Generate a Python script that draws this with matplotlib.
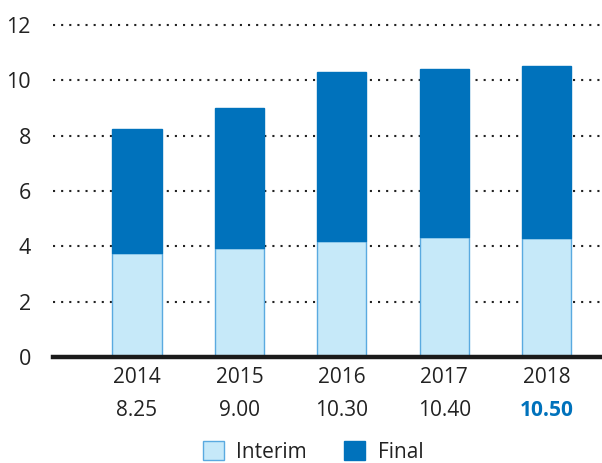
import numpy as np
import matplotlib.pyplot as plt
from matplotlib.patches import Patch

years = ['2014', '2015', '2016', '2017', '2018']
totals = [8.25, 9.00, 10.30, 10.40, 10.50]
interim = [3.75, 3.95, 4.20, 4.35, 4.30]
final = [t - i for t, i in zip(totals, interim)]
total_labels = ['8.25', '9.00', '10.30', '10.40', '10.50']

dark = '#0072BC'
light = '#C6E9F9'

plt.rcParams['font.family'] = ['Open Sans', 'DejaVu Sans']

fig = plt.figure(figsize=(6.02, 4.63), dpi=100)
ax = fig.add_axes([0.088, 0.229, 0.912, 0.717])

x = np.arange(len(years))
w = 0.48
ax.bar(x, interim, w, color=light, edgecolor='#5AAAE0', linewidth=1.0, zorder=3)
ax.bar(x, final, w, bottom=interim, color=dark, edgecolor=dark, linewidth=1.0, zorder=3)

ax.set_xlim(-0.82, 4.54)
ax.set_ylim(0, 12)
ax.set_yticks([0, 2, 4, 6, 8, 10, 12])
for yv in [2, 4, 6, 8, 10, 12]:
    ax.axhline(yv, color='#222222', linewidth=1.5, linestyle=(0, (1.0, 2.9)),
               zorder=1, clip_on=False)
ax.axhline(0, color='#1a1a1a', linewidth=3.2, zorder=4, clip_on=False)

for s in ax.spines.values():
    s.set_visible(False)
ax.tick_params(axis='y', length=0, pad=16, labelsize=15.5, labelcolor='#222222')
ax.set_xticks([])

for i in range(len(years)):
    ax.text(x[i], -0.063, years[i], transform=ax.get_xaxis_transform(),
            ha='center', va='center', fontsize=15, color='#222222')
    last = i == len(years) - 1
    ax.text(x[i], -0.16, total_labels[i], transform=ax.get_xaxis_transform(),
            ha='center', va='center', fontsize=15,
            color=dark if last else '#222222',
            fontweight='bold' if last else 'normal')

handles = [Patch(facecolor=light, edgecolor='#5AAAE0', label='Interim'),
           Patch(facecolor=dark, edgecolor=dark, label='Final')]
fig.legend(handles=handles, loc='center', bbox_to_anchor=(0.52, 0.024),
           ncol=2, frameon=False, fontsize=15, handlelength=1.0, handleheight=1.0,
           columnspacing=1.8, handletextpad=0.6, labelcolor='#222222')

fig.savefig('out.png', dpi=100)
